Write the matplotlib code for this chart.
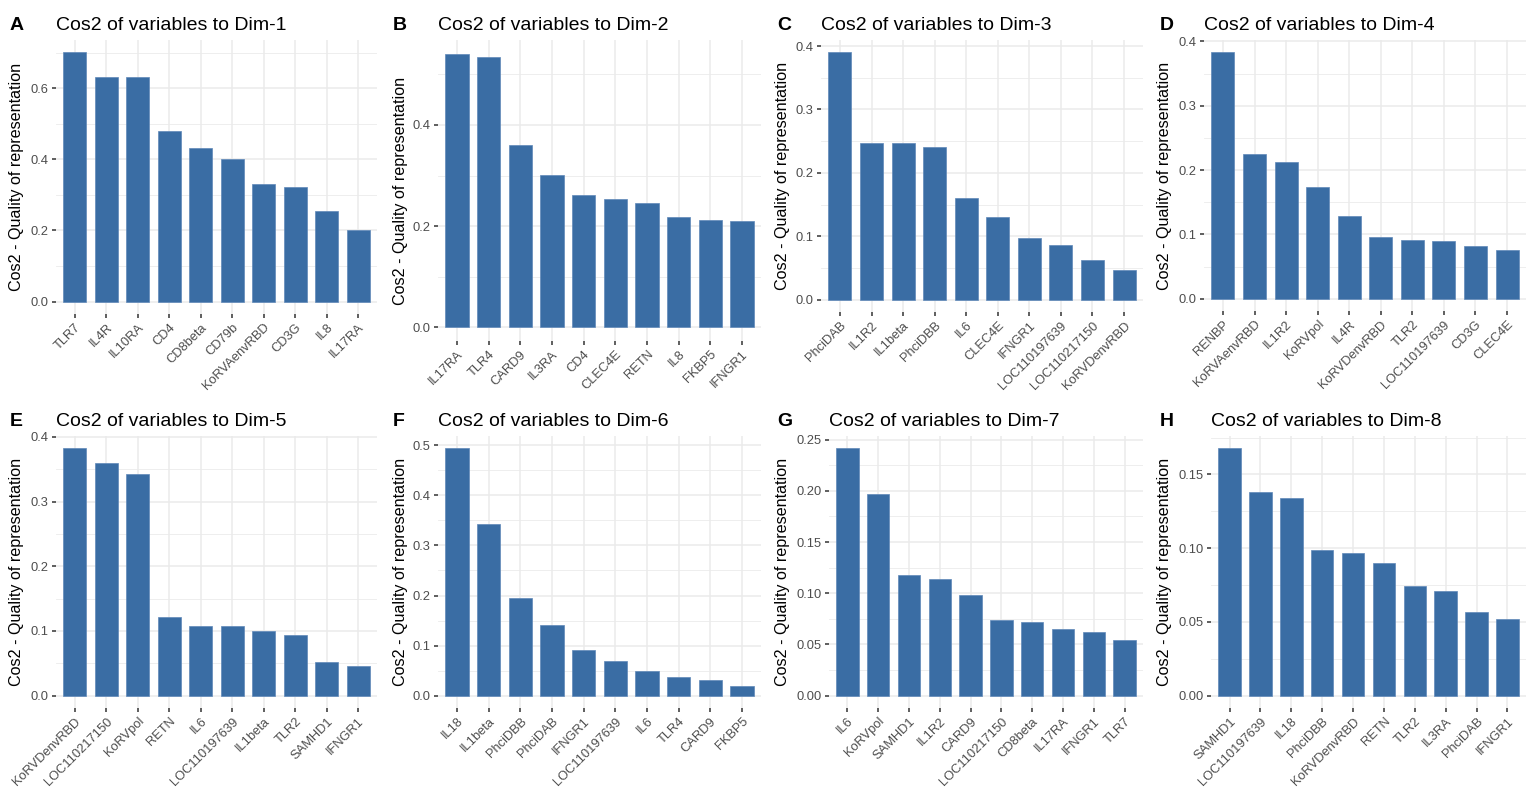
import matplotlib
matplotlib.use("Agg")
import matplotlib.pyplot as plt
from matplotlib.ticker import MultipleLocator, FormatStrFormatter
from matplotlib.transforms import ScaledTranslation

plt.rcParams['font.family'] = ['Liberation Sans', 'DejaVu Sans']

# ---- cos2 of the top-10 variables on each dimension ----
dim1_vars = ["TLR7", "IL4R", "IL10RA", "CD4", "CD8beta", "CD79b",
             "KoRVAenvRBD", "CD3G", "IL8", "IL17RA"]
dim1_cos2 = [0.701, 0.633, 0.632, 0.480, 0.433, 0.400, 0.330, 0.323, 0.256, 0.201]

dim2_vars = ["IL17RA", "TLR4", "CARD9", "IL3RA", "CD4", "CLEC4E",
             "RETN", "IL8", "FKBP5", "IFNGR1"]
dim2_cos2 = [0.541, 0.535, 0.361, 0.301, 0.261, 0.253, 0.246, 0.219, 0.212, 0.210]

dim3_vars = ["PhciDAB", "IL1R2", "IL1beta", "PhciDBB", "IL6", "CLEC4E",
             "IFNGR1", "LOC110197639", "LOC110217150", "KoRVDenvRBD"]
dim3_cos2 = [0.390, 0.247, 0.247, 0.240, 0.161, 0.131, 0.097, 0.086, 0.062, 0.046]

dim4_vars = ["RENBP", "KoRVAenvRBD", "IL1R2", "KoRVpol", "IL4R", "KoRVDenvRBD",
             "TLR2", "LOC110197639", "CD3G", "CLEC4E"]
dim4_cos2 = [0.383, 0.225, 0.213, 0.173, 0.128, 0.096, 0.091, 0.089, 0.082, 0.075]

dim5_vars = ["KoRVDenvRBD", "LOC110217150", "KoRVpol", "RETN", "IL6",
             "LOC110197639", "IL1beta", "TLR2", "SAMHD1", "IFNGR1"]
dim5_cos2 = [0.383, 0.359, 0.342, 0.121, 0.108, 0.107, 0.100, 0.094, 0.052, 0.046]

dim6_vars = ["IL18", "IL1beta", "PhciDBB", "PhciDAB", "IFNGR1",
             "LOC110197639", "IL6", "TLR4", "CARD9", "FKBP5"]
dim6_cos2 = [0.495, 0.342, 0.195, 0.142, 0.091, 0.070, 0.049, 0.037, 0.031, 0.020]

dim7_vars = ["IL6", "KoRVpol", "SAMHD1", "IL1R2", "CARD9", "LOC110217150",
             "CD8beta", "IL17RA", "IFNGR1", "TLR7"]
dim7_cos2 = [0.242, 0.197, 0.1175, 0.114, 0.098, 0.074, 0.072, 0.065, 0.062, 0.054]

dim8_vars = ["SAMHD1", "LOC110197639", "IL18", "PhciDBB", "KoRVDenvRBD",
             "RETN", "TLR2", "IL3RA", "PhciDAB", "IFNGR1"]
dim8_cos2 = [0.168, 0.138, 0.134, 0.099, 0.097, 0.090, 0.074, 0.071, 0.057, 0.052]

panel_letters = ["A", "B", "C", "D", "E", "F", "G", "H"]
panel_titles = [f"Cos2 of variables to Dim-{i}" for i in range(1, 9)]
all_vars = [dim1_vars, dim2_vars, dim3_vars, dim4_vars,
            dim5_vars, dim6_vars, dim7_vars, dim8_vars]
all_cos2 = [dim1_cos2, dim2_cos2, dim3_cos2, dim4_cos2,
            dim5_cos2, dim6_cos2, dim7_cos2, dim8_cos2]
y_steps = [0.2, 0.2, 0.1, 0.1, 0.1, 0.1, 0.05, 0.05]
y_decimals = [1, 1, 1, 1, 1, 1, 2, 2]

# ---- layout (pixel boxes: left, top, right, bottom) ----
W, H = 1528, 789
boxes = [
    (56, 40, 377, 314), (438, 40, 761, 341), (821, 40, 1143, 312), (1204, 40, 1526, 311),
    (56, 435.5, 377, 708), (438, 435.5, 761, 708), (829, 435.5, 1143, 708), (1211, 435.5, 1526, 708),
]
letter_x = [10, 393, 777, 1160, 10, 393, 777, 1160]
ylabel_x = [17, 400, 782, 1165, 17, 400, 783, 1165]
title_baseline = [29.5, 29.5, 29.5, 29.5, 425.5, 425.5, 425.5, 425.5]

BAR = "#3A6DA4"
GRID = "#EBEBEB"
TICK_TXT = "#4D4D4D"

fig = plt.figure(figsize=(W / 100, H / 100), dpi=100)
fig.patch.set_facecolor("white")
label_shift = ScaledTranslation(4 / 100, -7 / 100, fig.dpi_scale_trans)

for i in range(8):
    L, T, R, B = boxes[i]
    ax = fig.add_axes([L / W, 1 - B / H, (R - L) / W, (B - T) / H])
    names = all_vars[i]
    vals = all_cos2[i]
    xs = list(range(len(names)))
    ax.bar(xs, vals, width=0.73, color=BAR, edgecolor="#5F88B8", linewidth=0.5, zorder=3)

    top = max(vals)
    ax.set_xlim(-0.6, len(names) - 0.4)
    ax.set_ylim(-0.05 * top, 1.05 * top)

    ax.yaxis.set_major_locator(MultipleLocator(y_steps[i]))
    ax.yaxis.set_minor_locator(MultipleLocator(y_steps[i] / 2))
    ax.yaxis.set_major_formatter(FormatStrFormatter(f"%.{y_decimals[i]}f"))
    ax.set_xticks(xs)
    ax.set_xticklabels(names, rotation=45, ha="right", va="top",
                       rotation_mode="anchor")
    for lab in ax.get_xticklabels():
        lab.set_transform(lab.get_transform() + label_shift)

    ax.grid(which="major", axis="both", color=GRID, linewidth=1.1, zorder=0)
    ax.grid(which="minor", axis="y", color=GRID, linewidth=0.6, zorder=0)
    ax.set_axisbelow(True)
    for s in ax.spines.values():
        s.set_visible(False)
    ax.tick_params(which="major", length=2.9, width=1.1, color="#333333",
                   labelcolor=TICK_TXT, labelsize=9.3, pad=2.4)
    ax.tick_params(which="minor", length=0)
    ax.set_facecolor("white")

    yc = 1 - (T + B) / 2 / H
    fig.text(ylabel_x[i] / W, yc, "Cos2 - Quality of representation",
             rotation=90, ha="center", va="center", fontsize=11.6, color="black")
    fig.text(L / W, 1 - title_baseline[i] / H, panel_titles[i],
             ha="left", va="baseline", fontsize=14, color="black")
    fig.text(letter_x[i] / W, 1 - title_baseline[i] / H, panel_letters[i],
             ha="left", va="baseline", fontsize=14, fontweight="bold", color="black")

fig.savefig("out.png", dpi=100, facecolor="white")
